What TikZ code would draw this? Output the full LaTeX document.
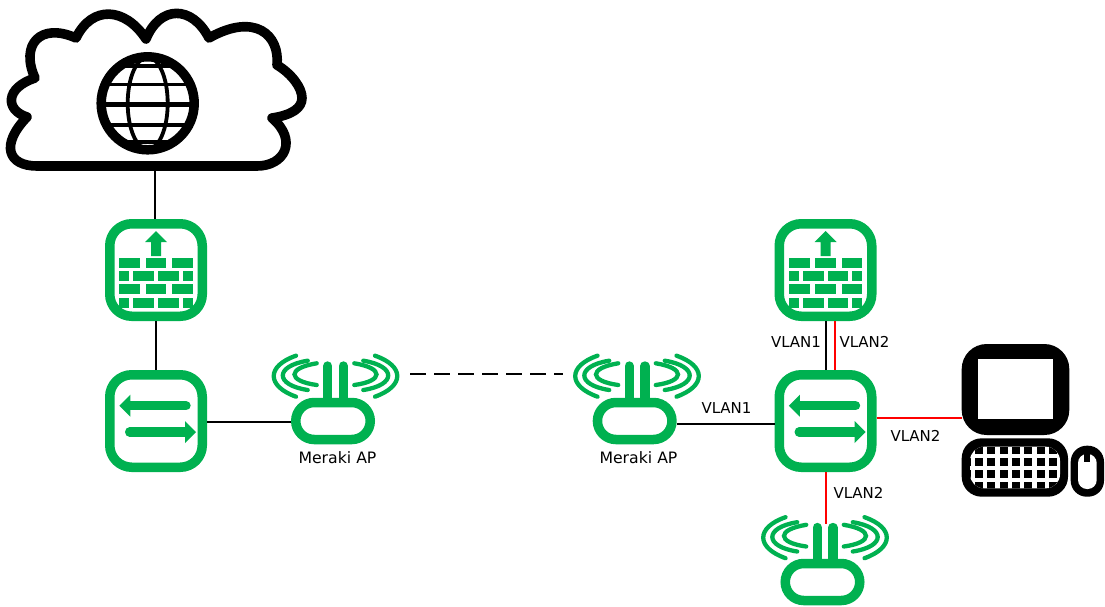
\documentclass[tikz,border=0pt]{standalone}
\usepackage{fontspec}
\setmainfont{DejaVu Sans}
\definecolor{merakigreen}{RGB}{0,177,80}
\tikzset{
  x=1pt,y=-1pt,
  iconbox/.style={draw=merakigreen,line width=9.5pt,rounded corners=22pt,minimum size=92.5pt,inner sep=0pt,fill=white},
  apbody/.style={draw=merakigreen,line width=9.5pt,rounded corners=18.5pt,minimum width=74.5pt,minimum height=37pt,inner sep=0pt,fill=white},
  monitorbox/.style={fill=black,rounded corners=25pt,minimum width=107.6pt,minimum height=91pt,inner sep=0pt},
  link/.style={draw=black,line width=2pt},
  redlink/.style={draw=red,line width=2pt},
  lbl/.style={font=\fontsize{15}{18}\selectfont,inner sep=0pt,text=black},
  aplbl/.style={font=\fontsize{15.7}{18}\selectfont,inner sep=0pt,text=black},
  wave/.style={draw=merakigreen,line width=4.3pt,line cap=round},
  shaft/.style={draw=merakigreen,line width=9.4pt,line cap=round},
  pics/fwicon/.style={code={
    \fill[merakigreen] (0,-39)--(11,-28)--(5,-28)--(5,-14)--(-5,-14)--(-5,-28)--(-11,-28)--cycle;
    \foreach \yy in {-12.5,14}{
      \fill[merakigreen] (-36.7,\yy) rectangle ++(20.7,10);
      \fill[merakigreen] (-10.3,\yy) rectangle ++(20.6,10);
      \fill[merakigreen] (16,\yy) rectangle ++(20.7,10);
    }
    \foreach \yy in {1,27.7}{
      \fill[merakigreen] (-36.7,\yy) rectangle ++(9.7,10.3);
      \fill[merakigreen] (-22.7,\yy) rectangle ++(20.7,10.3);
      \fill[merakigreen] (2,\yy) rectangle ++(20.7,10.3);
      \fill[merakigreen] (26.7,\yy) rectangle ++(10,10.3);
    }
  }},
  pics/swicon/.style={code={
    \draw[shaft] (-26,-15.3) -- (30,-15.3);
    \fill[merakigreen] (-36.7,-15.3)--(-25.7,-26.3)--(-25.7,-4.3)--cycle;
    \draw[shaft] (-26.3,11) -- (30,11);
    \fill[merakigreen] (40,11)--(29,0)--(29,22)--cycle;
  }},
  pics/apicon/.style={code={
    \draw[merakigreen,line width=9.4pt,line cap=round] (-7.8,-31) -- (-7.8,3);
    \draw[merakigreen,line width=9.4pt,line cap=round] (7.8,-31) -- (7.8,3);
    \foreach \sx in {-1,1}{
      \begin{scope}[xscale=\sx]
      \draw[wave] (39.5,-41.3) .. controls (69.2,-31) and (69.2,-11) .. (39.5,-0.3);
      \draw[wave] (27.8,-36.3) .. controls (61,-31) and (61,-12) .. (27.8,-7);
      \draw[wave] (18.8,-33.7) .. controls (48.4,-29) and (48.4,-16) .. (18.8,-12);
      \end{scope}
    }
  }}
}
\begin{document}
\begin{tikzpicture}
\useasboundingbox (0,0) rectangle (1105,606);
% icons
\pic at (335.5,397) {apicon};
\pic at (637,397) {apicon};
\pic at (825,558.5) {apicon};
\node[iconbox] (fwa) at (156,270) {};
\node[iconbox] (swa) at (156,421) {};
\node[iconbox] (fwb) at (825.5,270) {};
\node[iconbox] (swb) at (825.5,421) {};
\node[apbody] (apa) at (333,421) {};
\node[apbody] (apb) at (634.7,421) {};
\node[apbody] (apc) at (822.5,582) {};
\pic at (156,270) {fwicon};
\pic at (825.5,270) {fwicon};
\pic at (156,421) {swicon};
\pic at (825.5,421) {swicon};
% cloud
\draw[line width=9.6pt,line join=round,fill=white] (37,166) -- (257,166)
  .. controls (285,166) and (298,140) .. (272,118)
  .. controls (292,115) and (302,108) .. (302,98)
  .. controls (302,88) and (292,74) .. (277,65)
  .. controls (280,35) and (255,12) .. (209,38)
  .. controls (192,5) and (160,5) .. (146,39)
  .. controls (125,7) and (92,5) .. (76,38)
  .. controls (40,22) and (20,45) .. (35,78)
  .. controls (5,88) and (5,110) .. (27,117)
  .. controls (0,145) and (8,166) .. (37,166) -- cycle;
\coordinate (cloudbot) at (155,170.5);
% globe
\begin{scope}
\clip (147.7,103.3) circle[radius=46.5];
\foreach \yy/\ww in {65.7/3.6,84.3/3.6,104.3/4.4,125/3.6,141.7/3.6}{
  \draw[line width=\ww pt] (90,\yy) -- (205,\yy);
}
\draw[line width=3.8pt] (147.7,103.3) ellipse[x radius=20,y radius=46];
\end{scope}
\draw[line width=9.5pt] (147.7,103.3) circle[radius=46.5];
% computer
\node[monitorbox] (mon) at (1015.5,389.5) {};
\fill[white] (977.7,359.3) rectangle (1052.7,419);
\fill[rounded corners=20pt] (961.7,438.3) rectangle (1068,496.7);
\fill[white,rounded corners=14pt] (970,446.7) rectangle (1060,488.3);
\begin{scope}
\clip[rounded corners=14pt] (970,446.7) rectangle (1060,488.3);
\foreach \cx in {-1,...,7}{\foreach \cy in {0,...,3}{
  \fill (975+\cx*12.33,446.7+\cy*11.7) rectangle ++(8,7.7);
}}
\end{scope}
\fill[rounded corners=16pt] (1070.7,445.7) rectangle (1104,496.7);
\fill[white,rounded corners=9pt] (1078,454) rectangle (1096.7,489);
\fill (1083.5,454) rectangle (1090,461.5);
% connectors
\coordinate (dasha) at (410,374);
\coordinate (dashb) at (563,374);
\coordinate (apcin) at (825.5,524);
\draw[link] (cloudbot) -- ([xshift=-1pt]fwa.north);
\draw[link] (fwa.south) -- (swa.north);
\draw[link] ([yshift=-1pt]swa.east) -- ([yshift=-1pt]apa.west);
\draw[link] ([yshift=-3pt]apb.east) -- ([yshift=-3pt]swb.west);
\draw[link] (fwb.south) -- (swb.north);
\draw[redlink] ([xshift=9.5pt]fwb.south) -- ([xshift=9.5pt]swb.north);
\draw[redlink] (swb.south) -- (apcin);
\draw[line width=2pt,dash pattern=on 15.5pt off 8.5pt] (dasha) -- (dashb);
\draw[redlink] ([yshift=3.3pt]swb.east) -- ([yshift=3.3pt]swb.east -| mon.west);
% labels
\node[aplbl] (l1) at (337.5,457.5) {Meraki AP};
\node[aplbl] (l2) at (638.5,457.5) {Meraki AP};
\node[lbl] (l3) at (726.5,408.5) {VLAN1};
\node[lbl] (l4) at (796,342) {VLAN1};
\node[lbl] (l5) at (864.5,342) {VLAN2};
\node[lbl] (l6) at (915.5,435.5) {VLAN2};
\node[lbl] (l7) at (858.5,493) {VLAN2};
\end{tikzpicture}
\end{document}
